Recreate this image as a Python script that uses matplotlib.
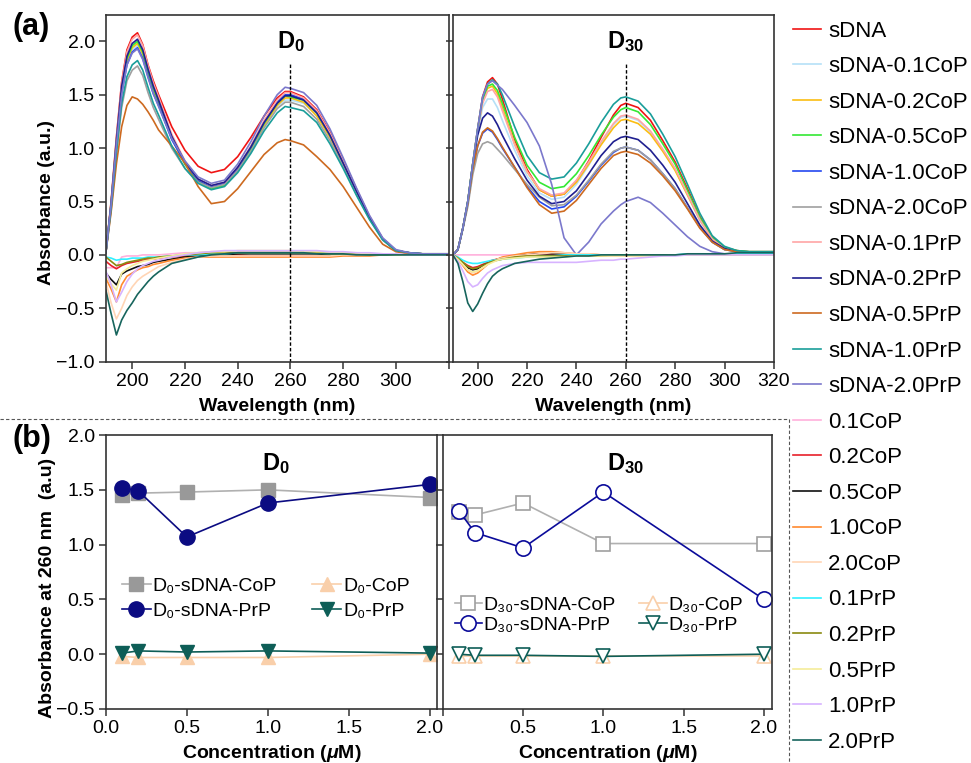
import matplotlib
matplotlib.use('Agg')
import matplotlib.pyplot as plt
from matplotlib.lines import Line2D

plt.rcParams['font.family'] = ['Liberation Sans', 'DejaVu Sans']
plt.rcParams['mathtext.fontset'] = 'custom'
plt.rcParams['mathtext.rm'] = 'Liberation Sans'
plt.rcParams['mathtext.bf'] = 'Liberation Sans:bold'
plt.rcParams['mathtext.it'] = 'Liberation Sans:italic:bold'

# wavelength grid (nm) the spectra were read at
wl = [190, 192, 194, 196, 198, 200, 202, 204, 206, 208, 210, 215, 220, 225, 230, 235,
      240, 245, 250, 255, 258, 260, 265, 270, 275, 280, 285, 290, 295, 300, 305, 310, 320]

# ---- D0 spectra ----
d0_sdna = [0.02, 0.50, 1.10, 1.62, 1.92, 2.04, 2.08, 1.97, 1.78, 1.63, 1.50, 1.20, 0.98, 0.83, 0.77, 0.80,
           0.92, 1.10, 1.30, 1.47, 1.53, 1.53, 1.48, 1.36, 1.15, 0.89, 0.62, 0.36, 0.15, 0.04, 0.01, 0.01, 0.00]
d0_sdna_01cop = [0.02, 0.47, 1.04, 1.53, 1.80, 1.92, 1.96, 1.86, 1.69, 1.53, 1.41, 1.09, 0.86, 0.70, 0.64, 0.67,
                 0.81, 1.00, 1.22, 1.39, 1.45, 1.45, 1.42, 1.31, 1.10, 0.85, 0.59, 0.35, 0.15, 0.04, 0.02, 0.01, 0.01]
d0_sdna_02cop = [0.02, 0.48, 1.05, 1.54, 1.82, 1.94, 1.98, 1.88, 1.70, 1.54, 1.43, 1.10, 0.85, 0.69, 0.62, 0.65,
                 0.79, 0.98, 1.21, 1.40, 1.47, 1.47, 1.43, 1.30, 1.10, 0.85, 0.58, 0.34, 0.15, 0.04, 0.02, 0.01, 0.01]
d0_sdna_05cop = [0.02, 0.48, 1.06, 1.56, 1.84, 1.96, 2.00, 1.90, 1.72, 1.56, 1.44, 1.10, 0.85, 0.69, 0.62, 0.65,
                 0.79, 0.99, 1.23, 1.42, 1.49, 1.48, 1.45, 1.33, 1.12, 0.86, 0.60, 0.35, 0.15, 0.04, 0.02, 0.01, 0.01]
d0_sdna_10cop = [0.02, 0.47, 1.03, 1.51, 1.78, 1.90, 1.94, 1.84, 1.67, 1.51, 1.40, 1.08, 0.86, 0.70, 0.64, 0.67,
                 0.81, 1.01, 1.24, 1.43, 1.50, 1.50, 1.46, 1.34, 1.13, 0.87, 0.60, 0.35, 0.15, 0.04, 0.02, 0.01, 0.01]
d0_sdna_20cop = [0.02, 0.42, 0.94, 1.38, 1.63, 1.73, 1.77, 1.68, 1.52, 1.38, 1.27, 1.00, 0.81, 0.68, 0.63, 0.66,
                 0.79, 0.97, 1.19, 1.37, 1.43, 1.43, 1.39, 1.27, 1.07, 0.83, 0.57, 0.34, 0.14, 0.04, 0.02, 0.01, 0.01]
d0_sdna_01prp = [0.02, 0.49, 1.09, 1.61, 1.90, 2.02, 2.06, 1.96, 1.77, 1.61, 1.48, 1.13, 0.88, 0.71, 0.65, 0.68,
                 0.82, 1.02, 1.26, 1.45, 1.52, 1.52, 1.47, 1.35, 1.14, 0.88, 0.61, 0.36, 0.15, 0.04, 0.02, 0.01, 0.01]
d0_sdna_02prp = [0.02, 0.48, 1.07, 1.58, 1.86, 1.98, 2.02, 1.92, 1.74, 1.58, 1.45, 1.11, 0.87, 0.71, 0.65, 0.68,
                 0.82, 1.01, 1.24, 1.42, 1.49, 1.49, 1.45, 1.33, 1.12, 0.86, 0.60, 0.35, 0.15, 0.04, 0.02, 0.01, 0.01]
d0_sdna_05prp = [0.02, 0.40, 0.85, 1.20, 1.40, 1.48, 1.46, 1.41, 1.34, 1.26, 1.17, 1.02, 0.86, 0.64, 0.48, 0.50,
                 0.62, 0.78, 0.94, 1.05, 1.08, 1.07, 1.03, 0.92, 0.80, 0.64, 0.45, 0.26, 0.10, 0.03, 0.01, 0.01, 0.00]
d0_sdna_10prp = [0.02, 0.44, 0.96, 1.42, 1.67, 1.78, 1.82, 1.73, 1.57, 1.42, 1.31, 1.02, 0.81, 0.67, 0.61, 0.64,
                 0.77, 0.95, 1.16, 1.33, 1.39, 1.38, 1.35, 1.24, 1.04, 0.81, 0.56, 0.33, 0.14, 0.04, 0.02, 0.01, 0.01]
d0_sdna_20prp = [0.02, 0.47, 1.03, 1.50, 1.78, 1.89, 1.93, 1.83, 1.66, 1.51, 1.39, 1.09, 0.88, 0.73, 0.67, 0.70,
                 0.85, 1.06, 1.30, 1.50, 1.57, 1.56, 1.52, 1.40, 1.18, 0.91, 0.63, 0.37, 0.16, 0.05, 0.02, 0.01, 0.01]
d0_01cop = [-0.12, -0.12, -0.12, -0.02, -0.01, -0.01, -0.01, 0.00, 0.00, 0.00, 0.00, 0.01, 0.02, 0.02, 0.03, 0.03,
            0.03, 0.03, 0.03, 0.03, 0.03, 0.03, 0.03, 0.03, 0.02, 0.02, 0.01, 0.01, 0.01, 0.00, 0.00, 0.00, 0.00]
d0_02cop = [-0.06, -0.10, -0.13, -0.10, -0.08, -0.07, -0.06, -0.05, -0.04, -0.04, -0.03, -0.02, -0.01, 0.00, 0.00, 0.00,
            0.00, -0.01, -0.01, -0.01, -0.01, -0.01, -0.01, -0.01, -0.01, 0.00, 0.00, 0.00, 0.00, 0.00, 0.00, 0.00, 0.00]
d0_05cop = [-0.17, -0.23, -0.28, -0.18, -0.15, -0.13, -0.11, -0.10, -0.09, -0.07, -0.06, -0.04, -0.02, -0.01, 0.00, 0.00,
            0.01, 0.01, 0.01, 0.01, 0.01, 0.01, 0.01, 0.01, 0.00, 0.00, 0.00, 0.00, 0.00, 0.00, 0.00, 0.00, 0.00]
d0_10cop = [-0.22, -0.32, -0.44, -0.28, -0.20, -0.17, -0.14, -0.12, -0.11, -0.09, -0.08, -0.05, -0.03, -0.02, -0.02, -0.02,
            -0.02, -0.02, -0.02, -0.02, -0.02, -0.02, -0.02, -0.02, -0.02, -0.01, -0.01, -0.01, 0.00, 0.00, 0.00, 0.00, 0.00]
d0_20cop = [-0.25, -0.45, -0.60, -0.50, -0.38, -0.30, -0.24, -0.20, -0.17, -0.14, -0.11, -0.07, -0.04, -0.02, -0.01, -0.01,
            -0.01, -0.01, -0.01, -0.01, -0.01, -0.01, -0.01, -0.01, -0.01, 0.00, 0.00, 0.00, 0.00, 0.00, 0.00, 0.00, 0.00]
d0_01prp = [-0.02, -0.03, -0.05, -0.04, -0.04, -0.03, -0.03, -0.03, -0.02, -0.02, -0.02, -0.01, 0.00, 0.00, 0.01, 0.01,
            0.02, 0.02, 0.02, 0.02, 0.02, 0.02, 0.02, 0.02, 0.01, 0.01, 0.01, 0.00, 0.00, 0.00, 0.00, 0.00, 0.00]
d0_02prp = [-0.02, -0.06, -0.10, -0.09, -0.07, -0.06, -0.05, -0.04, -0.03, -0.03, -0.02, -0.01, 0.00, 0.01, 0.02, 0.02,
            0.02, 0.02, 0.02, 0.02, 0.02, 0.02, 0.02, 0.02, 0.01, 0.01, 0.01, 0.00, 0.00, 0.00, 0.00, 0.00, 0.00]
d0_05prp = [-0.20, -0.27, -0.33, -0.17, -0.13, -0.10, -0.08, -0.06, -0.05, -0.04, -0.03, -0.01, 0.01, 0.02, 0.03, 0.03,
            0.04, 0.04, 0.04, 0.04, 0.04, 0.04, 0.03, 0.03, 0.03, 0.02, 0.02, 0.01, 0.01, 0.00, 0.00, 0.00, 0.00]
d0_10prp = [-0.15, -0.28, -0.44, -0.35, -0.25, -0.18, -0.13, -0.10, -0.08, -0.06, -0.05, -0.02, 0.00, 0.02, 0.03, 0.04,
            0.04, 0.04, 0.04, 0.04, 0.04, 0.04, 0.04, 0.04, 0.03, 0.03, 0.02, 0.02, 0.01, 0.01, 0.00, 0.00, 0.00]
d0_20prp = [-0.33, -0.55, -0.75, -0.61, -0.52, -0.45, -0.37, -0.31, -0.25, -0.20, -0.16, -0.08, -0.05, -0.02, 0.00, 0.01,
            0.02, 0.02, 0.02, 0.02, 0.02, 0.02, 0.02, 0.01, 0.01, 0.01, 0.00, 0.00, 0.00, 0.00, 0.00, 0.00, 0.00]

# ---- D30 spectra ----
d30_sdna = [0.00, 0.05, 0.25, 0.50, 0.85, 1.18, 1.48, 1.62, 1.66, 1.60, 1.46, 1.08, 0.80, 0.61, 0.55, 0.57,
            0.69, 0.88, 1.10, 1.31, 1.40, 1.42, 1.38, 1.26, 1.07, 0.87, 0.62, 0.36, 0.17, 0.07, 0.04, 0.03, 0.03]
d30_sdna_01cop = [0.00, 0.05, 0.25, 0.50, 0.85, 1.15, 1.38, 1.46, 1.46, 1.38, 1.26, 0.98, 0.74, 0.58, 0.52, 0.54,
                  0.66, 0.84, 1.04, 1.22, 1.29, 1.30, 1.26, 1.15, 0.98, 0.80, 0.56, 0.32, 0.15, 0.06, 0.03, 0.02, 0.02]
d30_sdna_02cop = [0.00, 0.05, 0.25, 0.50, 0.85, 1.17, 1.44, 1.56, 1.58, 1.51, 1.38, 1.04, 0.78, 0.61, 0.55, 0.57,
                  0.68, 0.85, 1.03, 1.19, 1.26, 1.27, 1.23, 1.13, 0.97, 0.79, 0.56, 0.33, 0.15, 0.06, 0.03, 0.02, 0.02]
d30_sdna_05cop = [0.00, 0.05, 0.25, 0.50, 0.85, 1.17, 1.45, 1.58, 1.60, 1.54, 1.42, 1.10, 0.84, 0.68, 0.62, 0.64,
                  0.76, 0.93, 1.12, 1.29, 1.36, 1.38, 1.34, 1.22, 1.04, 0.85, 0.60, 0.35, 0.16, 0.07, 0.04, 0.03, 0.03]
d30_sdna_10cop = [0.00, 0.05, 0.25, 0.48, 0.80, 1.02, 1.14, 1.18, 1.15, 1.08, 1.00, 0.82, 0.64, 0.50, 0.43, 0.45,
                  0.55, 0.69, 0.84, 0.96, 1.00, 1.01, 0.98, 0.89, 0.76, 0.62, 0.44, 0.26, 0.12, 0.05, 0.03, 0.02, 0.02]
d30_sdna_20cop = [0.00, 0.05, 0.24, 0.45, 0.75, 0.95, 1.04, 1.06, 1.04, 0.99, 0.94, 0.80, 0.66, 0.54, 0.46, 0.47,
                  0.56, 0.70, 0.85, 0.97, 1.00, 1.01, 0.98, 0.89, 0.76, 0.62, 0.44, 0.26, 0.12, 0.05, 0.03, 0.02, 0.02]
d30_sdna_01prp = [0.00, 0.05, 0.25, 0.50, 0.85, 1.17, 1.42, 1.53, 1.55, 1.48, 1.35, 1.03, 0.78, 0.62, 0.56, 0.58,
                  0.70, 0.87, 1.06, 1.23, 1.30, 1.31, 1.27, 1.16, 0.99, 0.81, 0.57, 0.33, 0.15, 0.06, 0.03, 0.02, 0.02]
d30_sdna_02prp = [0.00, 0.05, 0.25, 0.50, 0.84, 1.12, 1.28, 1.33, 1.30, 1.22, 1.12, 0.90, 0.70, 0.55, 0.48, 0.50,
                  0.60, 0.76, 0.93, 1.06, 1.10, 1.11, 1.08, 0.98, 0.84, 0.68, 0.48, 0.28, 0.13, 0.06, 0.03, 0.02, 0.02]
d30_sdna_05prp = [0.00, 0.05, 0.25, 0.48, 0.80, 1.02, 1.15, 1.19, 1.16, 1.09, 1.01, 0.82, 0.63, 0.47, 0.39, 0.41,
                  0.51, 0.66, 0.81, 0.93, 0.96, 0.97, 0.94, 0.86, 0.74, 0.60, 0.43, 0.25, 0.12, 0.05, 0.03, 0.02, 0.02]
d30_sdna_10prp = [0.00, 0.05, 0.25, 0.50, 0.85, 1.18, 1.47, 1.60, 1.64, 1.60, 1.50, 1.20, 0.93, 0.77, 0.71, 0.73,
                  0.86, 1.04, 1.24, 1.41, 1.47, 1.48, 1.44, 1.32, 1.13, 0.92, 0.66, 0.39, 0.18, 0.08, 0.04, 0.03, 0.03]
d30_sdna_20prp = [0.00, 0.05, 0.25, 0.50, 0.85, 1.18, 1.48, 1.60, 1.63, 1.59, 1.55, 1.40, 1.24, 1.02, 0.66, 0.16,
                  0.00, 0.12, 0.29, 0.41, 0.47, 0.50, 0.54, 0.49, 0.39, 0.28, 0.17, 0.08, 0.03, 0.01, 0.01, 0.01, 0.01]
d30_01cop = [0.00, 0.00, 0.00, 0.00, 0.00, 0.00, 0.00, 0.00, 0.00, 0.00, 0.00, 0.00, 0.00, -0.01, -0.01, -0.01,
             -0.01, -0.01, -0.01, -0.01, -0.01, -0.01, -0.01, 0.00, 0.00, 0.00, 0.00, 0.00, 0.00, 0.00, 0.00, 0.00, 0.00]
d30_02cop = [0.00, -0.03, -0.07, -0.10, -0.12, -0.11, -0.09, -0.07, -0.05, -0.04, -0.03, -0.01, 0.00, 0.01, 0.01, 0.01,
             0.00, 0.00, 0.00, 0.00, 0.00, 0.00, 0.00, 0.00, 0.00, 0.00, 0.00, 0.00, 0.00, 0.00, 0.00, 0.00, 0.00]
d30_05cop = [0.00, -0.03, -0.08, -0.12, -0.14, -0.13, -0.10, -0.08, -0.06, -0.04, -0.03, -0.01, 0.00, 0.01, 0.01, 0.01,
             0.00, 0.00, 0.00, 0.00, 0.00, 0.00, 0.00, 0.00, 0.00, 0.00, 0.00, 0.00, 0.00, 0.00, 0.00, 0.00, 0.00]
d30_10cop = [0.00, -0.04, -0.10, -0.16, -0.19, -0.17, -0.13, -0.09, -0.06, -0.04, -0.02, 0.00, 0.02, 0.03, 0.03, 0.02,
             0.01, 0.01, 0.00, 0.00, 0.00, 0.00, 0.00, 0.00, 0.00, 0.00, 0.00, 0.00, 0.00, 0.00, 0.00, 0.00, 0.00]
d30_20cop = [0.00, -0.04, -0.09, -0.14, -0.17, -0.15, -0.12, -0.09, -0.06, -0.04, -0.03, -0.01, 0.00, 0.01, 0.02, 0.02,
             0.01, 0.01, 0.00, 0.00, 0.00, 0.00, 0.00, 0.00, 0.00, 0.00, 0.00, 0.00, 0.00, 0.00, 0.00, 0.00, 0.00]
d30_01prp = [0.00, -0.02, -0.05, -0.07, -0.08, -0.08, -0.07, -0.06, -0.05, -0.05, -0.04, -0.03, -0.02, -0.01, -0.01, 0.00,
             0.00, 0.00, 0.00, 0.00, 0.00, 0.00, 0.00, 0.00, 0.00, 0.00, 0.01, 0.01, 0.01, 0.01, 0.01, 0.01, 0.01]
d30_02prp = [0.00, -0.03, -0.07, -0.11, -0.13, -0.12, -0.10, -0.08, -0.06, -0.05, -0.04, -0.02, -0.01, -0.01, -0.01, -0.01,
             -0.01, -0.01, -0.01, 0.00, 0.00, 0.00, 0.00, 0.00, 0.00, 0.00, 0.00, 0.00, 0.00, 0.00, 0.00, 0.00, 0.00]
d30_05prp = [0.00, -0.04, -0.09, -0.14, -0.16, -0.15, -0.12, -0.09, -0.07, -0.05, -0.04, -0.03, -0.02, -0.02, -0.02, -0.02,
             -0.01, -0.01, -0.01, -0.01, -0.01, -0.01, -0.01, -0.01, -0.01, 0.00, 0.00, 0.00, 0.00, 0.00, 0.00, 0.00, 0.00]
d30_10prp = [0.00, -0.06, -0.15, -0.25, -0.30, -0.28, -0.22, -0.17, -0.14, -0.12, -0.10, -0.08, -0.07, -0.07, -0.07, -0.07,
             -0.07, -0.06, -0.05, -0.05, -0.04, -0.04, -0.03, -0.02, -0.01, -0.01, 0.00, 0.00, 0.00, 0.00, 0.00, 0.00, 0.00]
d30_20prp = [0.00, -0.08, -0.25, -0.45, -0.53, -0.46, -0.36, -0.27, -0.20, -0.16, -0.13, -0.08, -0.06, -0.04, -0.03, -0.02,
             -0.01, -0.01, 0.00, 0.00, 0.00, 0.00, 0.00, 0.00, 0.00, 0.00, 0.01, 0.01, 0.01, 0.01, 0.02, 0.02, 0.02]

spec_labels = ['sDNA', 'sDNA-0.1CoP', 'sDNA-0.2CoP', 'sDNA-0.5CoP', 'sDNA-1.0CoP', 'sDNA-2.0CoP',
               'sDNA-0.1PrP', 'sDNA-0.2PrP', 'sDNA-0.5PrP', 'sDNA-1.0PrP', 'sDNA-2.0PrP',
               '0.1CoP', '0.2CoP', '0.5CoP', '1.0CoP', '2.0CoP',
               '0.1PrP', '0.2PrP', '0.5PrP', '1.0PrP', '2.0PrP']
spec_colors = ['#f01414', '#b5e0f7', '#fbbd12', '#34e834', '#2448f0', '#a0a0a0',
               '#ffa5a5', '#202090', '#cd6a20', '#1a9e9a', '#7b78cc',
               '#ffb0dc', '#e8202a', '#111111', '#ff8a30', '#ffd5b5',
               '#30f0ff', '#8a8a10', '#f5ec9a', '#d7b3ff', '#17655d']

d0_spectra = [d0_sdna, d0_sdna_01cop, d0_sdna_02cop, d0_sdna_05cop, d0_sdna_10cop, d0_sdna_20cop,
              d0_sdna_01prp, d0_sdna_02prp, d0_sdna_05prp, d0_sdna_10prp, d0_sdna_20prp,
              d0_01cop, d0_02cop, d0_05cop, d0_10cop, d0_20cop,
              d0_01prp, d0_02prp, d0_05prp, d0_10prp, d0_20prp]
d30_spectra = [d30_sdna, d30_sdna_01cop, d30_sdna_02cop, d30_sdna_05cop, d30_sdna_10cop, d30_sdna_20cop,
               d30_sdna_01prp, d30_sdna_02prp, d30_sdna_05prp, d30_sdna_10prp, d30_sdna_20prp,
               d30_01cop, d30_02cop, d30_05cop, d30_10cop, d30_20cop,
               d30_01prp, d30_02prp, d30_05prp, d30_10prp, d30_20prp]

# ---- absorbance at 260 nm vs concentration ----
conc = [0.1, 0.2, 0.5, 1.0, 2.0]
d0_sdna_cop_260 = [1.45, 1.47, 1.48, 1.50, 1.43]
d0_sdna_prp_260 = [1.52, 1.49, 1.07, 1.38, 1.55]
d0_cop_260 = [-0.02, -0.03, -0.03, -0.03, 0.00]
d0_prp_260 = [0.01, 0.03, 0.02, 0.03, 0.01]
d30_sdna_cop_260 = [1.30, 1.27, 1.38, 1.01, 1.01]
d30_sdna_prp_260 = [1.31, 1.11, 0.97, 1.48, 0.50]
d30_cop_260 = [-0.02, -0.02, -0.02, -0.02, -0.02]
d30_prp_260 = [0.00, -0.01, -0.01, -0.02, 0.00]

fig = plt.figure(figsize=(9.71, 7.63), dpi=100)
ax1 = fig.add_axes([0.109, 0.526, 0.353, 0.4548])
ax2 = fig.add_axes([0.4665, 0.526, 0.3305, 0.4548])
ax3 = fig.add_axes([0.109, 0.0708, 0.341, 0.359])
ax4 = fig.add_axes([0.456, 0.0708, 0.339, 0.359])

for ax in (ax1, ax2, ax3, ax4):
    for s in ax.spines.values():
        s.set_linewidth(1.2)
        s.set_color('#333333')
    ax.tick_params(direction='out', length=5, width=1.1, labelsize=14, pad=3, color='#333333')

# top panels
for ax, spectra in ((ax1, d0_spectra), (ax2, d30_spectra)):
    for vals, lab, col in zip(spectra, spec_labels, spec_colors):
        ax.plot(wl, vals, color=col, lw=1.2, label=lab)
    ax.axvline(260, ymin=0, ymax=0.862, color='k', lw=1.0, ls=(0, (2.5, 1.5)))
    ax.set_xlim(190, 320)
    ax.set_ylim(-1.0, 2.25)
    ax.set_yticks([-1.0, -0.5, 0.0, 0.5, 1.0, 1.5, 2.0])
    ax.set_xlabel('Wavelength (nm)', fontsize=14, fontweight='bold')
    ax.xaxis.set_label_coords(0.5, -0.105)

ax1.set_xticks([200, 220, 240, 260, 280, 300, 320])
ax1.set_xticklabels(['200', '220', '240', '260', '280', '300', ''])
ax2.set_xticks([200, 220, 240, 260, 280, 300, 320])
ax2.tick_params(axis='y', labelleft=False)
ax1.set_ylabel('Absorbance (a.u.)', fontsize=14, fontweight='bold')
ax1.yaxis.set_label_coords(-0.148, 0.458)
ax1.text(260, 2.0, r'$\mathbf{D_0}$', ha='center', va='center', fontsize=17)
ax2.text(260, 2.0, r'$\mathbf{D_{30}}$', ha='center', va='center', fontsize=17)

handles, labels = ax1.get_legend_handles_labels()
fig.legend(handles, labels, loc='upper left', bbox_to_anchor=(793 / 971, 0.973),
           frameon=False, borderpad=0, borderaxespad=0, fontsize=16,
           handlelength=1.26, handletextpad=0.32, labelspacing=0.655)

# bottom panels
ax3.plot(conc, d0_sdna_cop_260, color='#b0b0b0', lw=1.2, marker='s', ms=10,
         mfc='#999999', mec='#999999', label='D\u2080-sDNA-CoP')
ax3.plot(conc, d0_sdna_prp_260, color='#0b0b82', lw=1.2, marker='o', ms=11,
         mfc='#0b0b82', mec='#0b0b82', label='D\u2080-sDNA-PrP')
ax3.plot(conc, d0_cop_260, color='#f9cfaa', lw=1.2, marker='^', ms=10,
         mfc='#f9cfaa', mec='#f9cfaa', label='D\u2080-CoP')
ax3.plot(conc, d0_prp_260, color='#0e5e57', lw=1.2, marker='v', ms=10,
         mfc='#0e5e57', mec='#0e5e57', label='D\u2080-PrP')

ax4.plot(conc, d30_sdna_cop_260, color='#b0b0b0', lw=1.2, marker='s', ms=10,
         mfc='white', mec='#a0a0a0', mew=1.2, label='D\u2083\u2080-sDNA-CoP')
ax4.plot(conc, d30_sdna_prp_260, color='#0b0b9a', lw=1.2, marker='o', ms=11,
         mfc='white', mec='#0b0b9a', mew=1.2, label='D\u2083\u2080-sDNA-PrP')
ax4.plot(conc, d30_cop_260, color='#f9cfaa', lw=1.2, marker='^', ms=10,
         mfc='white', mec='#f9cfaa', mew=1.2, label='D\u2083\u2080-CoP')
ax4.plot(conc, d30_prp_260, color='#0e5e57', lw=1.2, marker='v', ms=10,
         mfc='white', mec='#0e5e57', mew=1.2, label='D\u2083\u2080-PrP')

for ax in (ax3, ax4):
    ax.set_ylim(-0.5, 2.0)
    ax.set_yticks([-0.5, 0.0, 0.5, 1.0, 1.5, 2.0])
    ax.set_xlabel(r'Concentration ($\mu$M)', fontsize=14, fontweight='bold')
    ax.xaxis.set_label_coords(0.5, -0.125)

ax3.set_xlim(0, 2.043)
ax4.set_xlim(0, 2.05)
ax3.set_xticks([0.0, 0.5, 1.0, 1.5, 2.0])
ax4.set_xticks([0.0, 0.5, 1.0, 1.5, 2.0])
ax4.set_xticklabels(['', '0.5', '1.0', '1.5', '2.0'])
ax4.tick_params(axis='y', labelleft=False)
ax3.set_ylabel('Absorbance at 260 nm  (a.u)', fontsize=14, fontweight='bold')
ax3.yaxis.set_label_coords(-0.151, 0.443)
ax3.text(1.05, 1.74, r'$\mathbf{D_0}$', ha='center', va='center', fontsize=17)
ax4.text(1.14, 1.74, r'$\mathbf{D_{30}}$', ha='center', va='center', fontsize=17)

ax3.legend(loc='upper left', bbox_to_anchor=(0.048, 0.48), ncol=2, frameon=False,
           borderpad=0, borderaxespad=0, fontsize=14, handlelength=1.5,
           handletextpad=0.1, labelspacing=0.35, columnspacing=1.8)
ax4.legend(loc='upper left', bbox_to_anchor=(0.036, 0.41), ncol=2, frameon=False,
           borderpad=0, borderaxespad=0, fontsize=14, handlelength=1.4,
           handletextpad=0.1, labelspacing=0.1, columnspacing=1.2)

# panel labels and dashed separators
fig.text(0.032, 0.964, '(a)', fontsize=22, fontweight='bold', ha='center', va='center')
fig.text(0.033, 0.425, '(b)', fontsize=22, fontweight='bold', ha='center', va='center')
fig.add_artist(Line2D([0, 0.8126], [0.451, 0.451], transform=fig.transFigure,
                      color='#555555', lw=0.8, ls=(0, (3, 2))))
fig.add_artist(Line2D([0.8126, 0.8126], [0.451, 0.0], transform=fig.transFigure,
                      color='#555555', lw=0.8, ls=(0, (3, 2))))

fig.savefig('out.png', dpi=100)
